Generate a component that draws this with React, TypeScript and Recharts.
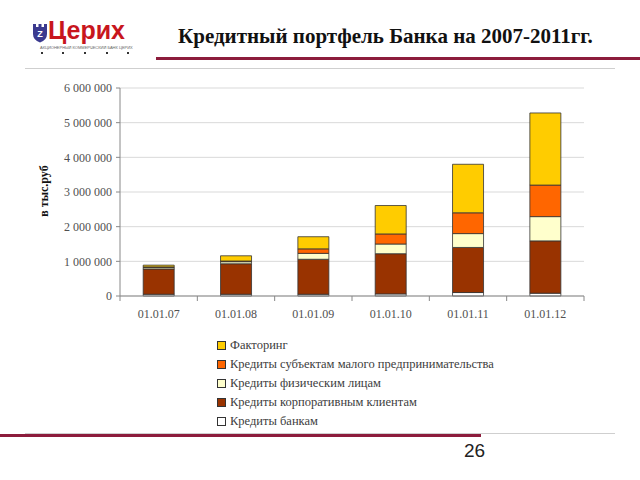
import React from 'react';
import { BarChart, Bar, XAxis, YAxis, CartesianGrid } from 'recharts';

const categories = ['01.01.07', '01.01.08', '01.01.09', '01.01.10', '01.01.11', '01.01.12'];
const banks = [50000, 50000, 50000, 60000, 100000, 80000];
const corporate = [730000, 880000, 1010000, 1160000, 1300000, 1510000];
const individuals = [40000, 60000, 170000, 280000, 400000, 700000];
const smallBusiness = [20000, 20000, 130000, 290000, 600000, 910000];
const factoring = [50000, 150000, 350000, 820000, 1400000, 2080000];
const yTicks = [0, 1000000, 2000000, 3000000, 4000000, 5000000, 6000000];

const seriesNames = {
  banks: 'Кредиты банкам',
  corporate: 'Кредиты корпоративным клиентам',
  individuals: 'Кредиты физическим лицам',
  smallBusiness: 'Кредиты субъектам малого предпринимательства',
  factoring: 'Факторинг',
};
const seriesColors = {
  banks: '#FFFFFF',
  corporate: '#993300',
  individuals: '#FFFFCC',
  smallBusiness: '#FF6600',
  factoring: '#FFCC00',
};
const stackOrder = ['banks', 'corporate', 'individuals', 'smallBusiness', 'factoring'] as const;
const legendOrder = ['factoring', 'smallBusiness', 'individuals', 'corporate', 'banks'] as const;

const data = categories.map((c, i) => ({
  name: c,
  banks: banks[i],
  corporate: corporate[i],
  individuals: individuals[i],
  smallBusiness: smallBusiness[i],
  factoring: factoring[i],
}));

const fmt = (v: number) => String(v).replace(/\B(?=(\d{3})+(?!\d))/g, ' ');

const CHART_W = 640;
const CHART_H = 340;
const M_LEFT = 50;
const Y_W = 70;
const M_RIGHT = 56;
const PLOT_W = CHART_W - M_LEFT - Y_W - M_RIGHT;
const BAND = PLOT_W / categories.length;

const XTick = (props: any) => {
  const { x, y, payload, index } = props;
  return (
    <g>
      <text x={x} y={y + 22} textAnchor="middle" fill="#505050" fontSize={12} fontFamily="'Liberation Serif', serif">
        {payload.value}
      </text>
      {index === 0 && <line x1={x - BAND / 2} x2={x - BAND / 2} y1={y} y2={y + 5} stroke="#888" />}
      <line x1={x + BAND / 2} x2={x + BAND / 2} y1={y} y2={y + 5} stroke="#888" />
    </g>
  );
};

const serif = "'Liberation Serif', 'Times New Roman', serif";

export default function App() {
  return (
    <div style={{ position: 'absolute', left: 0, top: 0, width: 640, height: 480, background: '#fff', overflow: 'hidden', fontFamily: serif }}>
      {/* Logo */}
      <svg style={{ position: 'absolute', left: 32, top: 23 }} width={16} height={20} viewBox="0 0 16 20">
        <path d="M1 1 L4 1 L4 4 L6.5 4 L6.5 1 L9.5 1 L9.5 4 L12 4 L12 1 L15 1 L15 11 Q15 17 8 19.5 Q1 17 1 11 Z" fill="#3b3a8f" />
        <text x={8} y={14} textAnchor="middle" fontSize={9} fontWeight="bold" fill="#fff" fontFamily="'Liberation Sans', sans-serif">Z</text>
      </svg>
      <div style={{ position: 'absolute', left: 48, top: 16, fontFamily: "'Liberation Sans', Arial, sans-serif", fontWeight: 'bold', fontSize: 25, color: '#c8161d', letterSpacing: 0 }}>
        Церих
      </div>
      <div style={{ position: 'absolute', left: 40, top: 45, fontFamily: "'Liberation Sans', Arial, sans-serif", fontSize: 4, lineHeight: '5px', color: '#666', whiteSpace: 'nowrap' }}>
        АКЦИОНЕРНЫЙ КОММЕРЧЕСКИЙ БАНК ЦЕРИХ
      </div>
      {[41, 62, 84, 106, 127].map((x) => (
        <div key={x} style={{ position: 'absolute', left: x, top: 52, width: 2, height: 2, background: '#333' }} />
      ))}

      {/* Title */}
      <div style={{ position: 'absolute', left: 178, top: 24, fontFamily: serif, fontWeight: 'bold', fontSize: 21, color: '#111', whiteSpace: 'nowrap' }}>
        Кредитный портфель Банка на 2007-2011гг.
      </div>
      <div style={{ position: 'absolute', left: 156, top: 57, width: 484, height: 3, background: '#8c1c3c' }} />
      <div style={{ position: 'absolute', left: 25, top: 68, width: 590, height: 1, background: '#cfcfcf' }} />

      {/* Chart */}
      <div style={{ position: 'absolute', left: 0, top: 0 }}>
        <BarChart
          width={CHART_W}
          height={CHART_H}
          data={data}
          margin={{ top: 88, right: M_RIGHT, left: M_LEFT, bottom: 14 }}
          barCategoryGap="30%"
        >
          <CartesianGrid vertical={false} stroke="#d9d9d9" />
          <XAxis
            dataKey="name"
            height={30}
            axisLine={{ stroke: '#888' }}
            tickLine={false}
            tickSize={0}
            tickMargin={0}
            interval={0}
            tick={<XTick />}
          />
          <YAxis
            width={Y_W}
            domain={[0, 6000000]}
            ticks={yTicks}
            interval={0}
            tickFormatter={fmt}
            axisLine={{ stroke: '#888' }}
            tickLine={{ stroke: '#888' }}
            tickSize={4}
            tickMargin={4}
            tick={{ fill: '#505050', fontSize: 12, fontFamily: serif }}
          />
          {stackOrder.map((k) => (
            <Bar
              key={k}
              dataKey={k}
              name={seriesNames[k]}
              stackId="a"
              fill={seriesColors[k]}
              stroke="#333"
              strokeWidth={0.8}
              isAnimationActive={false}
            />
          ))}
        </BarChart>
      </div>

      {/* Y label */}
      <div style={{ position: 'absolute', left: 44, top: 191, width: 0, height: 0 }}>
        <div style={{ position: 'absolute', transform: 'translate(-50%, -50%) rotate(-90deg)', fontFamily: serif, fontWeight: 'bold', fontSize: 12, color: '#111', whiteSpace: 'nowrap' }}>
          в тыс.руб
        </div>
      </div>

      {/* Legend */}
      {legendOrder.map((k, i) => (
        <div key={k} style={{ position: 'absolute', left: 217, top: 337 + i * 19.2, height: 16, display: 'flex', alignItems: 'center', whiteSpace: 'nowrap' }}>
          <div style={{ width: 7, height: 7, background: seriesColors[k], border: '1px solid #333', marginRight: 4 }} />
          <span style={{ fontFamily: serif, fontSize: 12.5, color: '#404040' }}>{seriesNames[k]}</span>
        </div>
      ))}

      {/* Footer */}
      <div style={{ position: 'absolute', left: 25, top: 433, width: 590, height: 1, background: '#cfcfcf' }} />
      <div style={{ position: 'absolute', left: 0, top: 434, width: 481, height: 3, background: '#8c1c3c' }} />
      <div style={{ position: 'absolute', left: 464, top: 440, fontFamily: "'Liberation Sans', Arial, sans-serif", fontSize: 19, color: '#222' }}>
        26
      </div>
    </div>
  );
}
